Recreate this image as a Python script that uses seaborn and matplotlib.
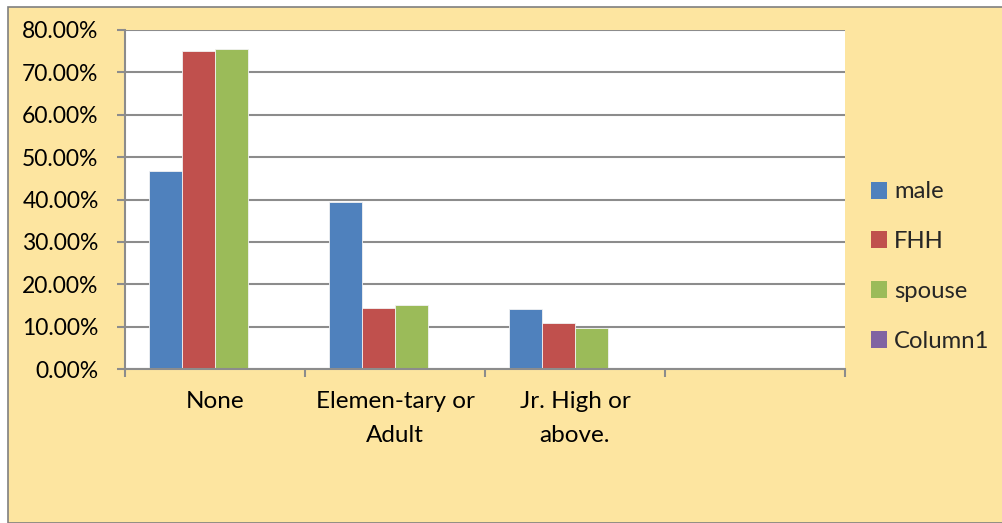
import matplotlib
matplotlib.use("Agg")
import matplotlib.pyplot as plt
from matplotlib.patches import Rectangle, Patch
from matplotlib.ticker import FixedLocator, FuncFormatter
import seaborn as sns
import pandas as pd

# Education level by household member type (share of respondents)
categories = ["None", "Elemen-tary or\nAdult", "Jr. High or\nabove.", " "]
series = ["male", "FHH", "spouse", "Column1"]
male = [0.468, 0.393, 0.141]
fhh = [0.750, 0.145, 0.108]
spouse = [0.754, 0.152, 0.097]
colors = ["#4F81BD", "#C0504D", "#9BBB59", "#8064A2"]
ytick_values = [0.0, 0.1, 0.2, 0.3, 0.4, 0.5, 0.6, 0.7, 0.8]

rows = []
for name, vals in zip(series[:3], [male, fhh, spouse]):
    for cat, v in zip(categories[:3], vals):
        rows.append({"level": cat, "member": name, "share": v})
df = pd.DataFrame(rows)

sns.set_theme(style="white")
plt.rcParams["font.family"] = ["Lato", "DejaVu Sans"]

bg = "#FDE5A0"
grid_c = "#8C8C8C"

fig = plt.figure(figsize=(10.03, 5.23), dpi=100, facecolor="white")
W, H = 1003, 523
# chart-area panel with a thin grey frame
fig.patches.append(Rectangle((8 / W, 0), 1.0, 1 - 7 / H, transform=fig.transFigure,
                             facecolor=bg, edgecolor="#7F7F7F", linewidth=1.2, zorder=-10))

ax = fig.add_axes([125 / W, 1 - 369 / H, 720 / W, 339 / H])
ax.set_facecolor("white")

sns.barplot(data=df, x="level", y="share", hue="member", order=categories,
            hue_order=series, palette=colors, width=0.728, dodge=True,
            saturation=1, edgecolor="#F2F2F2", linewidth=0.6, ax=ax, legend=False)

ax.set_xlim(-0.5, 3.5)
ax.set_ylim(0, 0.8)
ax.yaxis.set_major_locator(FixedLocator(ytick_values))
ax.yaxis.set_major_formatter(FuncFormatter(lambda v, p: f"{v * 100:.2f}%"))
ax.yaxis.grid(True, color=grid_c, linewidth=1.5)
ax.set_axisbelow(True)

for s in ["top", "right"]:
    ax.spines[s].set_visible(False)
for s in ["left", "bottom"]:
    ax.spines[s].set_color(grid_c)
    ax.spines[s].set_linewidth(1.5)

ax.tick_params(axis="y", which="major", direction="out", length=6, width=1.5,
               color=grid_c, pad=13, labelsize=16.5, labelcolor="black", left=True)
ax.set_xticks(range(len(categories)))
ax.set_xticklabels(categories, fontsize=17.5, color="black", linespacing=1.75)
ax.set_xticks([-0.5, 0.5, 1.5, 2.5, 3.5], minor=True)
ax.tick_params(axis="x", which="major", length=0, pad=16)
ax.tick_params(axis="x", which="minor", direction="out", length=6, width=1.5,
               color=grid_c, bottom=True)
for lbl in ax.get_xticklabels():
    lbl.set_verticalalignment("top")
ax.set_xlabel("")
ax.set_ylabel("")

handles = [Patch(facecolor=c, edgecolor="none") for c in colors]
fig.legend(handles, series, loc="center left", bbox_to_anchor=(861 / W, 1 - 266.5 / H),
           frameon=False, fontsize=17.2, handlelength=0.7, handleheight=0.7,
           handletextpad=0.28, labelspacing=1.2, borderaxespad=0)

fig.savefig("out.png", dpi=100, facecolor=fig.get_facecolor())
